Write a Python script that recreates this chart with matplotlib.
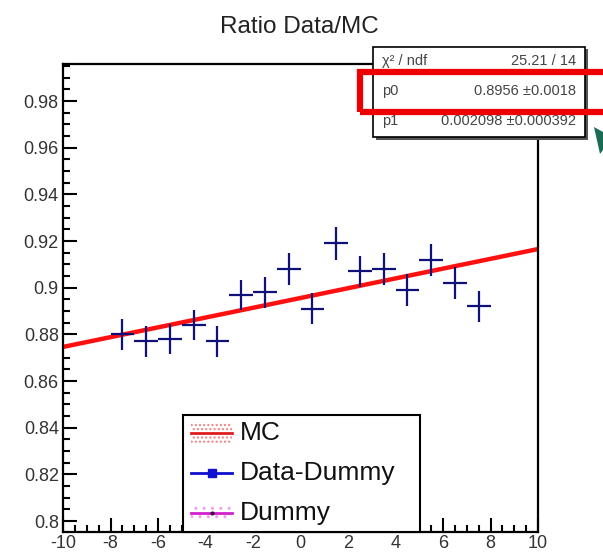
import matplotlib
matplotlib.use("Agg")
import matplotlib.pyplot as plt
from matplotlib.patches import Rectangle, Polygon
from matplotlib.lines import Line2D
from matplotlib.ticker import MultipleLocator, FuncFormatter

plt.rcParams['font.family'] = ['Liberation Sans', 'DejaVu Sans']
plt.rcParams['axes.unicode_minus'] = False

# ratio points (bin centres, values, errors)
x_vals = [-7.5, -6.5, -5.5, -4.5, -3.5, -2.5, -1.5, -0.5,
          0.5, 1.5, 2.5, 3.5, 4.5, 5.5, 6.5, 7.5]
y_vals = [0.880, 0.877, 0.878, 0.884, 0.877, 0.897, 0.898, 0.908,
          0.891, 0.919, 0.907, 0.908, 0.899, 0.912, 0.902, 0.892]
y_errs = [0.0068, 0.0065, 0.0065, 0.0066, 0.0066, 0.0064, 0.0066, 0.0067,
          0.0066, 0.0069, 0.0068, 0.0068, 0.0067, 0.0069, 0.0067, 0.0068]
x_errs = [0.5] * len(x_vals)

# linear fit result
p0, p1 = 0.8956, 0.002098
fit_x = [-10, 10]

stat_labels = ["χ² / ndf", "p0", "p1"]
stat_values = ["25.21 / 14", "0.8956 ±0.0018", "0.002098 ±0.000392"]
legend_labels = ["MC", "Data-Dummy", "Dummy"]

W, H = 603, 553
fig = plt.figure(figsize=(W / 100, H / 100), dpi=100)

def fx(px):
    return px / W

def fy(py):
    return 1 - py / H

ax = fig.add_axes([fx(63), fy(532), fx(538) - fx(63), fy(64) - fy(532)])
ax.set_xlim(-10, 10)
ax.set_ylim(0.7953, 0.9959)

fit_y = [p0 + p1 * v for v in fit_x]
ax.plot(fit_x, fit_y, color='#ff1010', lw=3.2, zorder=2, solid_capstyle='butt')
ax.errorbar(x_vals, y_vals, xerr=x_errs, yerr=y_errs, fmt='none',
            ecolor='#10107a', elinewidth=1.6, capsize=0, zorder=3)

def ylab(v, pos):
    s = f"{v:.2f}"
    if s.endswith('0'):
        s = s[:-1]
    return s

ax.xaxis.set_major_locator(MultipleLocator(2))
ax.xaxis.set_minor_locator(MultipleLocator(0.5))
ax.yaxis.set_major_locator(MultipleLocator(0.02))
ax.yaxis.set_minor_locator(MultipleLocator(0.005))
ax.yaxis.set_major_formatter(FuncFormatter(ylab))
ax.tick_params(which='both', direction='in', top=False, right=False,
               labelsize=13, labelcolor='#333333', width=1.5)
ax.tick_params(which='major', length=10)
ax.tick_params(which='minor', length=5)
ax.tick_params(axis='x', pad=2)
ax.tick_params(axis='y', pad=3)
for s in ax.spines.values():
    s.set_linewidth(1.6)

fig.text(fx(299), fy(27), "Ratio Data/MC", ha='center', va='center',
         fontsize=17.5, color='#222222')

# stats box
fig.patches.append(Rectangle((fx(376), fy(140)), fx(588) - fx(376), fy(49) - fy(140),
                             transform=fig.transFigure, facecolor='#555555',
                             edgecolor='none', zorder=5))
fig.patches.append(Rectangle((fx(373), fy(137)), fx(585) - fx(373), fy(47) - fy(137),
                             transform=fig.transFigure, facecolor='white',
                             edgecolor='black', lw=1.2, zorder=6))
row_y = [61, 91, 121]
for lab, val, ry in zip(stat_labels, stat_values, row_y):
    fig.text(fx(382), fy(ry), lab, ha='left', va='center', fontsize=10.5,
             color='#444444', zorder=7)
    fig.text(fx(576), fy(ry), val, ha='right', va='center', fontsize=10.5,
             color='#444444', zorder=7)

# red highlight rectangle
fig.patches.append(Rectangle((fx(360), fy(112)), fx(640) - fx(360), fy(72) - fy(112),
                             transform=fig.transFigure, facecolor='none',
                             edgecolor='#ee0000', lw=4.5, zorder=8))
# partial green arrow head at the edge
fig.patches.append(Polygon([(fx(594), fy(127)), (fx(603), fy(132)),
                            (fx(603), fy(150)), (fx(600), fy(154))],
                           closed=True, transform=fig.transFigure,
                           facecolor='#1b6b55', edgecolor='none', zorder=8))

# legend box
fig.patches.append(Rectangle((fx(183), fy(532)), fx(420) - fx(183), fy(415) - fy(532),
                             transform=fig.transFigure, facecolor='white',
                             edgecolor='black', lw=1.5, zorder=5))
leg_y = [433, 473, 513]
sym_x0, sym_x1 = 191, 232
# MC: red line over pink hatched box
fig.patches.append(Rectangle((fx(sym_x0), fy(leg_y[0] + 10)), fx(sym_x1) - fx(sym_x0),
                             fy(leg_y[0] - 10) - fy(leg_y[0] + 10),
                             transform=fig.transFigure, facecolor='white',
                             edgecolor='#f08080', lw=0, hatch='....', zorder=6))
fig.lines.append(Line2D([fx(sym_x0), fx(sym_x1)], [fy(leg_y[0])] * 2,
                        transform=fig.transFigure, color='#e02020', lw=2, zorder=7))
# Data-Dummy: blue line with square marker
fig.lines.append(Line2D([fx(sym_x0), fx(sym_x1)], [fy(leg_y[1])] * 2,
                        transform=fig.transFigure, color='#1010d0', lw=2, zorder=7))
fig.lines.append(Line2D([fx((sym_x0 + sym_x1) / 2)], [fy(leg_y[1])],
                        transform=fig.transFigure, color='#1010d0', marker='s',
                        markersize=6, zorder=7))
# Dummy: magenta line over dotted box
fig.patches.append(Rectangle((fx(sym_x0), fy(leg_y[2] + 10)), fx(sym_x1) - fx(sym_x0),
                             fy(leg_y[2] - 10) - fy(leg_y[2] + 10),
                             transform=fig.transFigure, facecolor='white',
                             edgecolor='#f0a0f0', lw=0, hatch='..', zorder=6))
fig.lines.append(Line2D([fx(sym_x0), fx(sym_x1)], [fy(leg_y[2])] * 2,
                        transform=fig.transFigure, color='#d020d0', lw=2, zorder=7))
fig.lines.append(Line2D([fx((sym_x0 + sym_x1) / 2)], [fy(leg_y[2])],
                        transform=fig.transFigure, color='#400040', marker='o',
                        markersize=2, zorder=7))
for lab, ly in zip(legend_labels, leg_y):
    fig.text(fx(240), fy(ly), lab, ha='left', va='center', fontsize=19,
             color='#111111', zorder=7)

fig.savefig("out.png", dpi=100)
